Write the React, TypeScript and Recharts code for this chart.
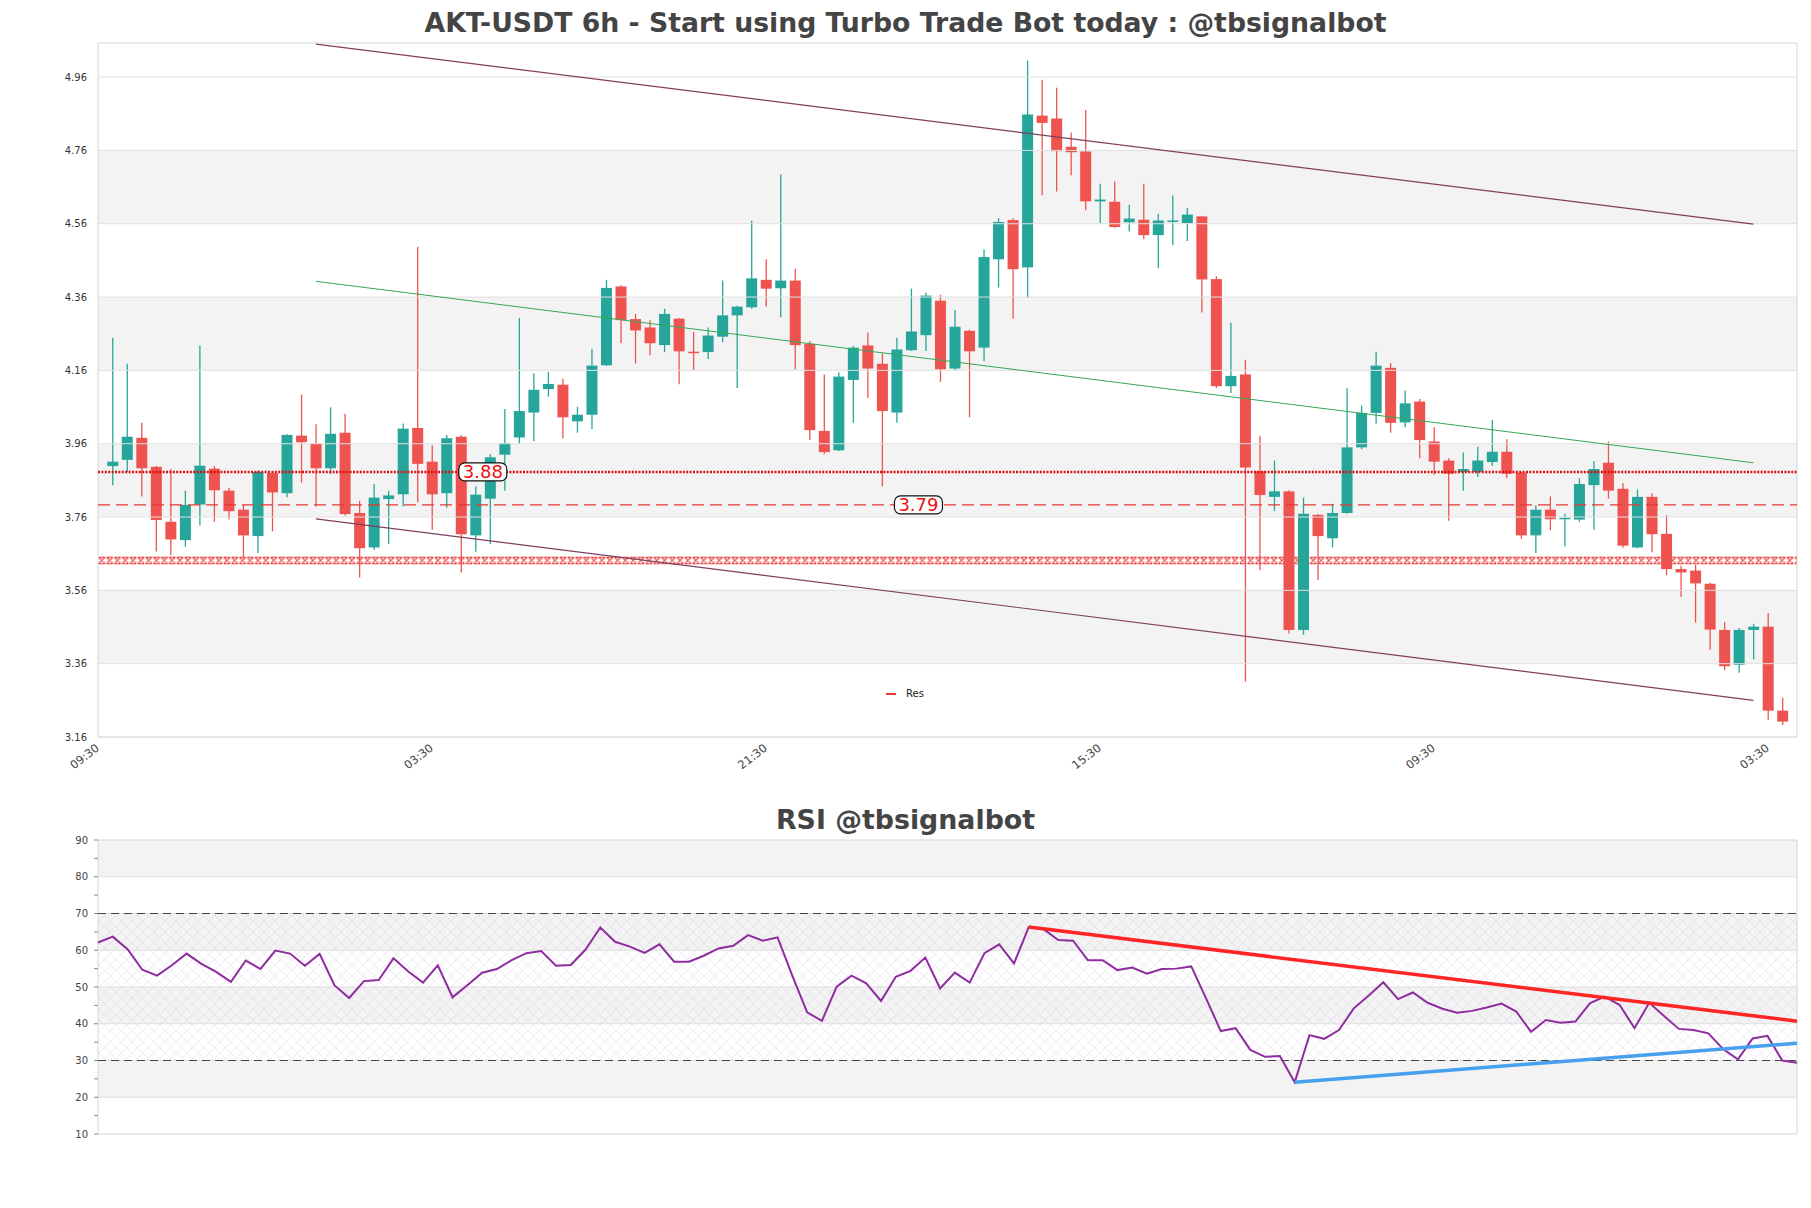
import React from 'react';
import {
  ComposedChart,
  Bar,
  Line,
  XAxis,
  YAxis,
  ReferenceArea,
  ReferenceLine,
  ReferenceDot,
} from 'recharts';

// AKT-USDT 6h candles
const opens = [
  3.899, 3.916, 3.976, 3.897, 3.747, 3.697, 3.794, 3.892, 3.832, 3.780,
  3.708, 3.880, 3.825, 3.982, 3.960, 3.893, 3.990, 3.771, 3.677, 3.809,
  3.822, 4.003, 3.911, 3.825, 3.979, 3.710, 3.810, 3.930, 3.977, 4.045,
  4.109, 4.121, 4.021, 4.039, 4.174, 4.389, 4.300, 4.277, 4.229, 4.301,
  4.211, 4.210, 4.252, 4.310, 4.332, 4.407, 4.384, 4.405, 4.232, 3.995,
  3.942, 4.134, 4.228, 4.178, 4.045, 4.215, 4.256, 4.350, 4.165, 4.268,
  4.222, 4.463, 4.570, 4.441, 4.855, 4.847, 4.770, 4.757, 4.621, 4.620,
  4.564, 4.571, 4.529, 4.567, 4.562, 4.580, 4.409, 4.117, 4.149, 3.885,
  3.815, 3.830, 3.452, 3.766, 3.702, 3.771, 3.950, 4.044, 4.167, 4.018,
  4.075, 3.966, 3.914, 3.883, 3.883, 3.910, 3.938, 3.881, 3.710, 3.780,
  3.755, 3.753, 3.847, 3.908, 3.837, 3.677, 3.815, 3.714, 3.618, 3.614,
  3.578, 3.452, 3.357, 3.452, 3.461, 3.232,
];
const highs = [
  4.249, 4.178, 4.017, 3.899, 3.891, 3.832, 4.228, 3.899, 3.839, 3.793,
  3.887, 3.883, 3.986, 4.094, 4.013, 4.059, 4.042, 3.804, 3.850, 3.832,
  4.015, 4.497, 3.956, 3.984, 3.983, 3.844, 3.932, 4.055, 4.303, 4.152,
  4.156, 4.137, 4.061, 4.219, 4.407, 4.392, 4.314, 4.297, 4.328, 4.303,
  4.265, 4.277, 4.405, 4.336, 4.569, 4.463, 4.694, 4.437, 4.240, 4.149,
  4.155, 4.227, 4.263, 4.206, 4.249, 4.383, 4.372, 4.366, 4.325, 4.271,
  4.490, 4.575, 4.575, 5.005, 4.953, 4.931, 4.809, 4.870, 4.669, 4.675,
  4.612, 4.669, 4.587, 4.637, 4.603, 4.582, 4.417, 4.290, 4.189, 3.982,
  3.914, 3.833, 3.813, 3.768, 3.796, 4.111, 4.064, 4.211, 4.180, 4.105,
  4.082, 4.005, 3.920, 3.936, 3.952, 4.025, 3.972, 3.883, 3.792, 3.816,
  3.769, 3.866, 3.913, 3.966, 3.853, 3.835, 3.825, 3.765, 3.627, 3.630,
  3.581, 3.473, 3.457, 3.469, 3.498, 3.267,
];
const lows = [
  3.847, 3.883, 3.816, 3.666, 3.656, 3.679, 3.737, 3.747, 3.753, 3.649,
  3.662, 3.721, 3.814, 3.854, 3.789, 3.878, 3.764, 3.595, 3.670, 3.686,
  3.789, 3.800, 3.725, 3.785, 3.609, 3.665, 3.686, 3.832, 3.960, 3.967,
  4.088, 3.975, 3.990, 4.000, 4.172, 4.234, 4.179, 4.201, 4.210, 4.122,
  4.161, 4.191, 4.237, 4.112, 4.328, 4.334, 4.305, 4.163, 3.970, 3.932,
  3.940, 4.017, 4.085, 3.844, 4.017, 4.213, 4.213, 4.129, 4.161, 4.032,
  4.185, 4.386, 4.301, 4.358, 4.638, 4.648, 4.692, 4.597, 4.562, 4.549,
  4.539, 4.518, 4.439, 4.502, 4.513, 4.318, 4.112, 4.098, 3.311, 3.615,
  3.776, 3.442, 3.439, 3.588, 3.677, 3.769, 3.945, 4.015, 3.990, 4.005,
  3.920, 3.875, 3.750, 3.832, 3.869, 3.899, 3.866, 3.701, 3.662, 3.724,
  3.680, 3.747, 3.725, 3.810, 3.676, 3.675, 3.664, 3.601, 3.542, 3.472,
  3.398, 3.342, 3.335, 3.372, 3.207, 3.193,
];
const closes = [
  3.911, 3.979, 3.893, 3.752, 3.699, 3.793, 3.900, 3.833, 3.776, 3.710,
  3.883, 3.827, 3.984, 3.964, 3.893, 3.987, 3.768, 3.675, 3.813, 3.819,
  4.001, 3.905, 3.822, 3.975, 3.713, 3.821, 3.923, 3.962, 4.049, 4.107,
  4.123, 4.032, 4.039, 4.173, 4.385, 4.297, 4.269, 4.234, 4.314, 4.212,
  4.207, 4.255, 4.310, 4.334, 4.411, 4.383, 4.405, 4.229, 3.997, 3.937,
  4.143, 4.222, 4.165, 4.049, 4.217, 4.266, 4.364, 4.163, 4.279, 4.212,
  4.469, 4.565, 4.436, 4.858, 4.835, 4.758, 4.755, 4.621, 4.626, 4.551,
  4.574, 4.529, 4.569, 4.569, 4.585, 4.408, 4.117, 4.145, 3.895, 3.820,
  3.830, 3.452, 3.769, 3.708, 3.771, 3.950, 4.044, 4.173, 4.017, 4.070,
  3.970, 3.911, 3.878, 3.891, 3.914, 3.938, 3.878, 3.710, 3.780, 3.754,
  3.758, 3.850, 3.891, 3.832, 3.682, 3.815, 3.713, 3.618, 3.609, 3.579,
  3.453, 3.353, 3.452, 3.461, 3.232, 3.202,
];

const rsi = [
  62.1, 63.7, 60.3, 54.7, 53.1, 55.9, 59.1, 56.3, 54.1, 51.4,
  57.2, 54.9, 59.9, 59.1, 55.8, 59.0, 50.5, 47.0, 51.6, 51.9,
  57.8, 54.2, 51.2, 55.9, 47.2, 50.5, 53.9, 54.9, 57.3, 59.2,
  59.8, 55.8, 56.0, 60.2, 66.2, 62.3, 61.0, 59.3, 61.6, 56.9,
  56.9, 58.5, 60.5, 61.2, 64.1, 62.6, 63.5, 53.0, 43.1, 40.8,
  50.1, 53.1, 51.0, 46.2, 52.8, 54.4, 58.0, 49.6, 53.9, 51.2,
  59.2, 61.6, 56.4, 66.3, 65.7, 62.8, 62.6, 57.3, 57.3, 54.6,
  55.3, 53.6, 54.9, 55.0, 55.6, 46.9, 38.0, 38.8, 32.9, 31.0,
  31.2, 24.1, 36.9, 35.9, 38.3, 44.2, 47.6, 51.3, 46.7, 48.5,
  45.7, 44.1, 43.0, 43.5, 44.4, 45.5, 43.3, 37.8, 41.0, 40.3,
  40.6, 45.6, 47.4, 45.1, 38.8, 45.7, 42.1, 38.6, 38.3, 37.4,
  33.1, 30.3, 36.0, 36.7, 30.0, 29.4,
];

const xTicks = [-1, 22, 45, 68, 91, 114];
const xTickLabels = ['09:30', '03:30', '21:30', '15:30', '09:30', '03:30'];
const priceTicks = [3.16, 3.36, 3.56, 3.76, 3.96, 4.16, 4.36, 4.56, 4.76, 4.96];
const priceBands = [[3.36, 3.56], [3.76, 3.96], [4.16, 4.36], [4.56, 4.76]];
const rsiTicks = [10, 15, 20, 25, 30, 35, 40, 45, 50, 55, 60, 65, 70, 75, 80, 85, 90];
const rsiGrid = [20, 30, 40, 50, 60, 70, 80];
const rsiBands = [[20, 30], [40, 50], [60, 70], [80, 90]];

// channel: start / end candle and prices
const channelX = [14, 113];
const upperChannel = [5.05, 4.559];
const midChannel = [4.403, 3.908];
const lowerChannel = [3.755, 3.26];

const dottedLevel = 3.883;
const dashedLevel = 3.793;
const crossBand = [3.631, 3.652];
const levelTags = [
  { x: 25.5, y: 3.883, text: '3.88' },
  { x: 55.5, y: 3.793, text: '3.79' },
];

const rsiDownTrend = [{ x: 63, y: 66.3 }, { x: 115, y: 40.7 }];
const rsiUpTrend = [{ x: 81, y: 24.1 }, { x: 115, y: 34.7 }];

const candles = opens.map((open, i) => ({
  i,
  open,
  high: highs[i],
  low: lows[i],
  close: closes[i],
}));
const rsiData = rsi.map((v, i) => ({ i, rsi: v }));

const UP = '#26a69a';
const DOWN = '#ef5350';
const FONT = '"DejaVu Sans", sans-serif';

const Candle = (props: any) => {
  const { x, y, width, height, payload } = props;
  if (x == null || !payload) return null;
  const { open, close, high, low } = payload;
  const cx = x + width / 2;
  const ratio = height / Math.max(high - low, 1e-9);
  const yo = y + (high - open) * ratio;
  const yc = y + (high - close) * ratio;
  const color = close >= open ? UP : DOWN;
  const top = Math.min(yo, yc);
  const h = Math.max(Math.abs(yo - yc), 1.5);
  return (
    <g>
      <line x1={cx} x2={cx} y1={y} y2={y + height} stroke={color} strokeWidth={1.3} />
      <rect x={cx - 5.5} y={top} width={11} height={h} fill={color} />
    </g>
  );
};

const LevelTag = (props: any) => {
  const { cx, cy, text } = props;
  if (cx == null) return null;
  return (
    <g>
      <rect x={cx - 24} y={cy - 9} width={48} height={18} rx={6} fill="#fff" stroke="#111" strokeWidth={1.2} />
      <text x={cx} y={cy + 6.5} textAnchor="middle" fill="#ee1111" fontSize={18} fontFamily={FONT}>
        {text}
      </text>
    </g>
  );
};

const titleStyle: React.CSSProperties = {
  position: 'absolute',
  left: 0,
  width: 1811,
  textAlign: 'center',
  fontFamily: FONT,
  fontWeight: 'bold',
  fontSize: 26.7,
  lineHeight: '30px',
  color: '#444',
};

export default function App() {
  return (
    <div style={{ position: 'absolute', left: 0, top: 0, width: 1811, height: 1208, background: '#fff', fontFamily: FONT }}>
      <div style={{ ...titleStyle, top: 8 }}>AKT-USDT 6h - Start using Turbo Trade Bot today : @tbsignalbot</div>

      <div style={{ position: 'absolute', left: 0, top: 0 }}>
        <ComposedChart width={1811} height={790} data={candles} margin={{ top: 43, right: 14, bottom: 8, left: 0 }}>
          <defs>
            <pattern id="xBand" patternUnits="objectBoundingBox" width={0.0046} height={1}>
              <path
                d="M0.6,0.6H7.2M0.6,7.2H7.2M0.6,0.6L7.2,7.2M7.2,0.6L0.6,7.2"
                stroke="#e8322f"
                strokeWidth={1}
                fill="none"
              />
            </pattern>
          </defs>
          {priceBands.map(([a, b]) => (
            <ReferenceArea key={`band-${a}`} y1={a} y2={b} fill="#f3f3f3" fillOpacity={1} stroke="none" />
          ))}
          {priceTicks.map((t) => (
            <ReferenceLine key={`grid-${t}`} y={t} stroke="#e0e0e0" strokeWidth={1} />
          ))}
          <XAxis
            type="number"
            dataKey="i"
            domain={[-1, 116]}
            ticks={xTicks}
            interval={0}
            tickFormatter={(v: number) => xTickLabels[xTicks.indexOf(v)] ?? ''}
            angle={-38}
            textAnchor="end"
            height={45}
            axisLine={false}
            tickLine={false}
            tickMargin={0}
            tick={{ fontSize: 11.5, fill: '#444', fontFamily: FONT, dx: -3 }}
          />
          <YAxis
            type="number"
            domain={[3.16, 5.053]}
            ticks={priceTicks}
            interval={0}
            width={98}
            axisLine={false}
            tickLine={false}
            tickMargin={5}
            tickFormatter={(v: number) => v.toFixed(2)}
            tick={{ fontSize: 10, fill: '#333', fontFamily: FONT }}
          />
          <ReferenceArea y1={crossBand[0]} y2={crossBand[1]} fill="url(#xBand)" fillOpacity={1} stroke="none" />
          <ReferenceLine y={dashedLevel} stroke="#e53935" strokeWidth={1.3} strokeDasharray="12 6" />
          <ReferenceLine y={dottedLevel} stroke="#d90f0f" strokeWidth={2.6} strokeDasharray="2 1.4" />
          <ReferenceLine
            segment={[{ x: channelX[0], y: upperChannel[0] }, { x: channelX[1], y: upperChannel[1] }]}
            stroke="#7e3f5f"
            strokeWidth={1.2}
          />
          <ReferenceLine
            segment={[{ x: channelX[0], y: midChannel[0] }, { x: channelX[1], y: midChannel[1] }]}
            stroke="#34a853"
            strokeWidth={1}
          />
          <ReferenceLine
            segment={[{ x: channelX[0], y: lowerChannel[0] }, { x: channelX[1], y: lowerChannel[1] }]}
            stroke="#7e3f5f"
            strokeWidth={1.2}
          />
          <Bar
            dataKey={(d: any) => [d.low, d.high]}
            barSize={11}
            shape={(p: any) => <Candle {...p} />}
            isAnimationActive={false}
          />
          {levelTags.map((t) => (
            <ReferenceDot key={t.text} x={t.x} y={t.y} r={0} shape={(p: any) => <LevelTag {...p} text={t.text} />} />
          ))}
          <ReferenceArea x1={-1} x2={116} y1={3.16} y2={5.053} fill="none" stroke="#d6d6d6" strokeWidth={1} />
        </ComposedChart>
      </div>

      <div style={{ position: 'absolute', left: 886, top: 688, display: 'flex', alignItems: 'center', fontSize: 10, color: '#222' }}>
        <span style={{ display: 'inline-block', width: 10, height: 2, background: '#e53935', marginRight: 10 }} />
        <span>Res</span>
      </div>

      <div style={{ ...titleStyle, fontSize: 26.8, top: 805 }}>RSI @tbsignalbot</div>

      <div style={{ position: 'absolute', left: 0, top: 800 }}>
        <ComposedChart width={1811} height={350} data={rsiData} margin={{ top: 40, right: 14, bottom: 16, left: 0 }}>
          <defs>
            <pattern id="rsiHatch" patternUnits="userSpaceOnUse" width={11} height={11}>
              <path d="M0,0L11,11M11,0L0,11" stroke="#c7b4d6" strokeWidth={0.5} fill="none" />
            </pattern>
          </defs>
          {rsiBands.map(([a, b]) => (
            <ReferenceArea key={`rband-${a}`} y1={a} y2={b} fill="#f3f3f3" fillOpacity={1} stroke="none" />
          ))}
          {rsiGrid.map((t) => (
            <ReferenceLine key={`rgrid-${t}`} y={t} stroke="#dedede" strokeWidth={1} />
          ))}
          <ReferenceArea y1={30} y2={70} fill="url(#rsiHatch)" fillOpacity={0.55} stroke="none" />
          <XAxis type="number" dataKey="i" domain={[0, 115]} hide />
          <YAxis
            type="number"
            domain={[10, 90]}
            ticks={rsiTicks}
            interval={0}
            width={98}
            axisLine={false}
            tickSize={4}
            tickLine={{ stroke: '#888' }}
            tickMargin={6}
            tickFormatter={(v: number) => (v % 10 === 0 ? String(v) : '')}
            tick={{ fontSize: 10, fill: '#444', fontFamily: FONT }}
          />
          <ReferenceLine y={70} stroke="#444" strokeWidth={1.2} strokeDasharray="8 5" />
          <ReferenceLine y={30} stroke="#444" strokeWidth={1.2} strokeDasharray="8 5" />
          <Line type="linear" dataKey="rsi" stroke="#8e2d9e" strokeWidth={2} dot={false} isAnimationActive={false} />
          <ReferenceLine segment={rsiDownTrend} stroke="#ff2525" strokeWidth={3.5} />
          <ReferenceLine segment={rsiUpTrend} stroke="#46a0ee" strokeWidth={3.5} />
          <ReferenceArea x1={0} x2={115} y1={10} y2={90} fill="none" stroke="#d6d6d6" strokeWidth={1} />
        </ComposedChart>
      </div>
    </div>
  );
}
